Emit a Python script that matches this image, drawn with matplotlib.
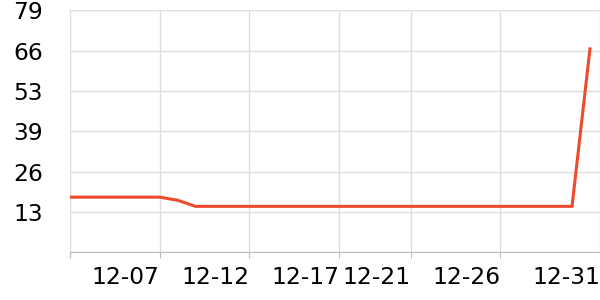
import matplotlib
matplotlib.use("Agg")
import matplotlib.pyplot as plt

# daily values, 12-02 .. 12-31
days = [2, 3, 4, 5, 6, 7, 8, 9, 10, 11, 12, 13, 14, 15, 16, 17,
        18, 19, 20, 21, 22, 23, 24, 25, 26, 27, 28, 29, 30, 31]
values = [18, 18, 18, 18, 18, 18, 17, 15, 15, 15, 15, 15, 15, 15, 15, 15,
          15, 15, 15, 15, 15, 15, 15, 15, 15, 15, 15, 15, 15, 66.4]

tick_days = [2, 7, 12, 17, 21, 26, 31.56]
tick_labels = ['', '12-07', '12-12', '12-17', '12-21', '12-26', '12-31']
y_max = 79
y_labels = ['', '13', '26', '39', '53', '66', '79']

fig = plt.figure(figsize=(6, 3), dpi=100)
ax = fig.add_axes([70 / 600, 1 - 252.3 / 300, 530 / 600, 242 / 300])

ax.plot(days, values, color='#ee4a2c', lw=2.2, solid_joinstyle='miter', zorder=3)

ax.set_xlim(2, 31.56)
ax.set_ylim(0, y_max)
ax.set_xticks(tick_days)
ax.set_xticklabels(tick_labels, ha='right', fontsize=16.8)
ax.set_yticks([y_max * i / 6 for i in range(7)])
ax.set_yticklabels(y_labels, fontsize=16.8)

ax.grid(True, color='#dddddd', lw=1)
for s in ['top', 'right']:
    ax.spines[s].set_visible(False)
ax.spines['left'].set_color('#dddddd')
ax.spines['bottom'].set_color('#bbbbbb')
ax.tick_params(axis='y', length=0, pad=19.5)
ax.tick_params(axis='x', length=4, color='#bbbbbb', pad=6)

fig.savefig('out.png', dpi=100)
